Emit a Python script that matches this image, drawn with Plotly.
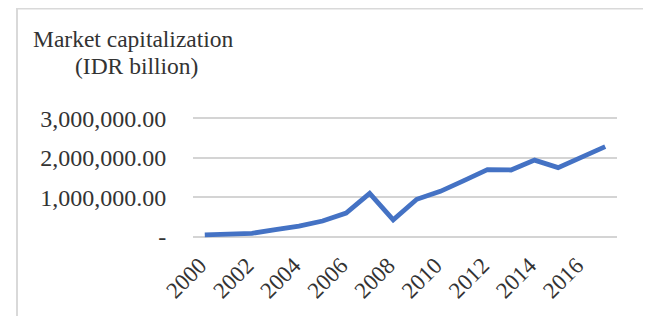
import plotly.graph_objects as go

years = list(range(2000, 2018))
market_cap = [50000, 70000, 90000, 180000, 270000, 400000, 600000, 1100000,
              430000, 950000, 1150000, 1420000, 1700000, 1690000, 1940000,
              1750000, 2030000, 2280000]
y_tick_vals = [0, 1000000, 2000000, 3000000]
y_tick_text = ["-", "1,000,000.00", "2,000,000.00", "3,000,000.00"]
x_tick_vals = list(range(2000, 2017, 2))
title_line1 = "Market capitalization"
title_line2 = "(IDR billion)"

# page offset (browser body margin)
OX, OY = 8, 8
W, H = 651 - OX, 316 - OY
# desired plot area in page pixels: y=0 at 237, y=3M at 118
Lp, Rp = 193, 617
PER_M = (237 - 118) / 3.0
PAD_M = 0.08
Tp = 118 - PAD_M * PER_M
Bp = 237 + PAD_M * PER_M
L, R, T, B = Lp - OX, Rp - OX, Tp - OY, Bp - OY

def px(x):  # page x -> paper
    return (x - Lp) / (Rp - Lp)
def py(y):  # page y -> paper
    return (Bp - y) / (Bp - Tp)

FONT = "Liberation Serif, Times New Roman, serif"
TXT = "#333333"

fig = go.Figure()
fig.add_trace(go.Scatter(
    x=years, y=market_cap, mode="lines",
    line=dict(color="#4472C4", width=4.8),
    showlegend=False, hoverinfo="x+y"))

fig.update_layout(
    width=W, height=H,
    margin=dict(l=L, r=W - R, t=T, b=H - B, pad=0),
    paper_bgcolor="white", plot_bgcolor="white",
    font=dict(family=FONT, size=23, color=TXT),
    xaxis=dict(range=[1999.5, 2017.5], tickvals=x_tick_vals,
               ticktext=[str(v) for v in x_tick_vals], tickangle=-45,
               showgrid=False, zeroline=False, showline=False,
               ticks="outside", ticklen=2, tickcolor="rgba(0,0,0,0)",
               ticklabelshift=-5,
               tickfont=dict(family=FONT, size=23, color=TXT)),
    yaxis=dict(range=[-PAD_M * 1e6, (3 + PAD_M) * 1e6],
               tickvals=y_tick_vals, ticktext=y_tick_text,
               showgrid=True, gridcolor="#d4d4d4", gridwidth=1.5,
               zeroline=False, showline=False,
               ticks="outside", ticklen=21, tickcolor="rgba(0,0,0,0)",
               tickfont=dict(family=FONT, size=24, color=TXT)),
    shapes=[dict(type="rect", xref="paper", yref="paper",
                 x0=px(17), x1=px(645), y0=py(330), y1=py(8),
                 line=dict(color="#d9d9d9", width=2), fillcolor="rgba(0,0,0,0)",
                 layer="below")],
    annotations=[
        dict(text=title_line1, xref="paper", yref="paper",
             x=px(133), y=py(39), xanchor="center", yanchor="middle",
             showarrow=False, font=dict(family=FONT, size=23.5, color=TXT)),
        dict(text=title_line2, xref="paper", yref="paper",
             x=px(136), y=py(66), xanchor="center", yanchor="middle",
             showarrow=False, font=dict(family=FONT, size=23.5, color=TXT)),
    ],
)

fig.write_html("out.html")
